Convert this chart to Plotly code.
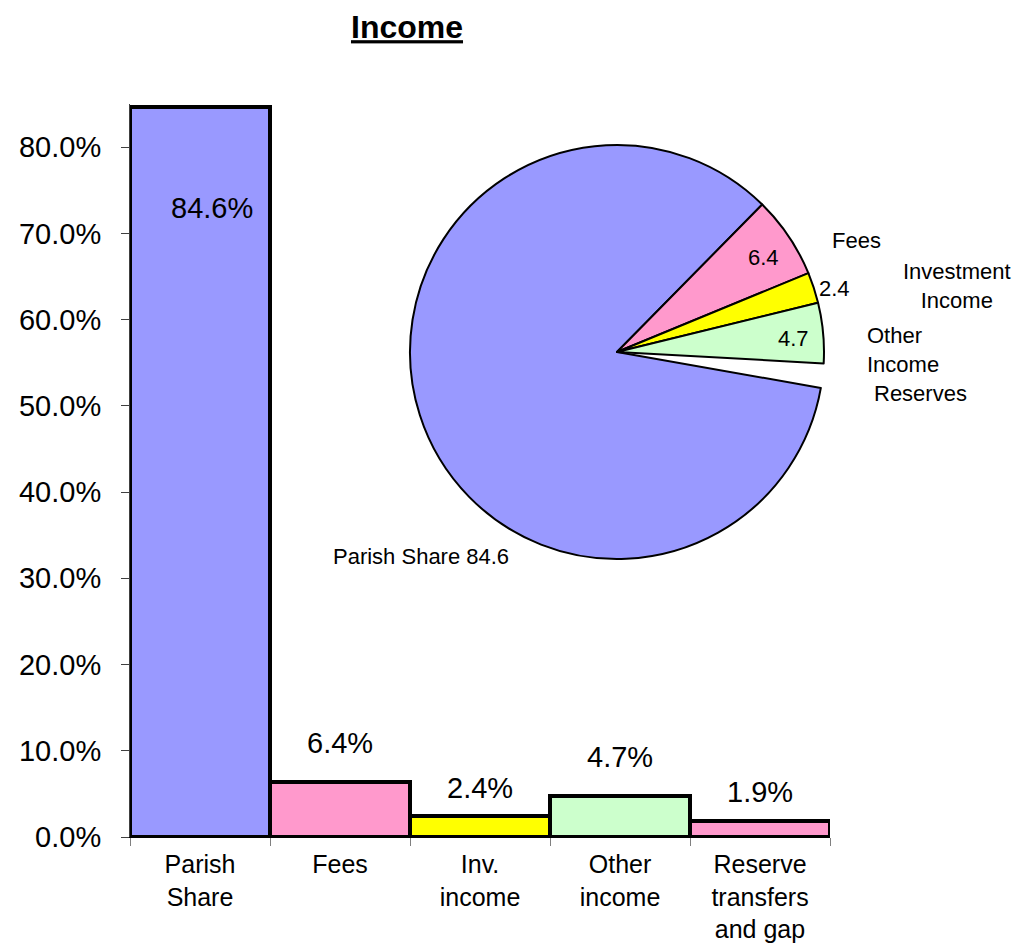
import plotly.graph_objects as go

# ---- data ----
categories = ["Parish<br>Share", "Fees", "Inv.<br>income", "Other<br>income", "Reserve<br>transfers<br>and gap"]
bar_values = [84.6, 6.4, 2.4, 4.7, 1.9]
bar_colors = ["#9999FF", "#FF99CC", "#FFFF00", "#CCFFCC", "#FF99CC"]

pie_labels = ["Parish Share", "Fees", "Investment<br>Income", "Other<br>Income", "Reserves"]
pie_values = [84.6, 6.4, 2.4, 4.7, 1.9]
pie_colors = ["#9999FF", "#FF99CC", "#FFFF00", "#CCFFCC", "rgba(0,0,0,0)"]

y_ticks = [0, 10, 20, 30, 40, 50, 60, 70, 80]
y_ticktext = [f"{v:.1f}%" for v in y_ticks]

W, H = 1016, 948
L, R, T, B = 130, 186, 104, 111
PW, PH = W - L - R, H - T - B


def px(x, y):
    return (x - L) / PW, (H - B - y) / PH


FONT = "Liberation Sans, Arial, sans-serif"

fig = go.Figure()
fig.add_trace(go.Bar(
    x=categories, y=bar_values,
    marker=dict(color=bar_colors, line=dict(color="black", width=4)),
    width=1, showlegend=False, hoverinfo="skip",
))

x0, y0 = px(410, 559)
x1, y1 = px(824, 145)
fig.add_trace(go.Pie(
    labels=pie_labels, values=pie_values, sort=False,
    direction="clockwise", rotation=100,
    marker=dict(colors=pie_colors,
                line=dict(color=["black"] * 4 + ["rgba(0,0,0,0)"], width=[2, 2, 2, 2, 0])),
    textinfo="none", showlegend=False, hoverinfo="skip",
    domain=dict(x=[x0, x1], y=[y0, y1]),
))

annotations = []
# bar value labels
bar_label_shift = [-101, 39, 28, 39, 29]
bar_label_xshift = [12, 0, 0, 0, 0]
for c, v, s, xs in zip(categories, bar_values, bar_label_shift, bar_label_xshift):
    annotations.append(dict(x=c, y=v, xref="x", yref="y", text=f"{v:.1f}%",
                            showarrow=False, yshift=s, xshift=xs, yanchor="middle",
                            font=dict(size=29, color="black", family=FONT)))

# pie labels
pie_font = dict(size=22, color="black", family=FONT)
pie_text_pos = [
    (f"{pie_labels[0]} {pie_values[0]}", 421, 556, "center", "center"),
    (f"{pie_values[1]}", 763, 257, "center", "center"),
    (f"{pie_values[2]}", 834, 288, "center", "center"),
    (f"{pie_values[3]}", 793, 338, "center", "center"),
    (pie_labels[1], 856, 240, "center", "center"),
    (pie_labels[2], 957, 286, "center", "center"),
    (pie_labels[3], 865, 350, "left", "left"),
    (pie_labels[4], 920, 393, "center", "center"),
]
for text, ax, ay, xa, al in pie_text_pos:
    xp, yp = px(ax, ay)
    annotations.append(dict(x=xp, y=yp, xref="paper", yref="paper", text=text,
                            showarrow=False, xanchor=xa, align=al, yanchor="middle",
                            font=pie_font))

fig.update_layout(
    width=W, height=H,
    margin=dict(l=L, r=R, t=T, b=B, autoexpand=False),
    paper_bgcolor="white", plot_bgcolor="white",
    font=dict(family=FONT, color="black"),
    title=dict(text="<u><b>Income</b></u>", x=(407 - L) / PW, xref="paper",
               y=1 - 27 / H, yref="container", xanchor="center", yanchor="middle",
               font=dict(size=32, family=FONT, color="black")),
    bargap=0,
    annotations=annotations,
    xaxis=dict(showline=True, linecolor="black", linewidth=1, automargin=False,
               ticks="outside", tickson="boundaries", ticklen=8, tickcolor="#808080",
               tickfont=dict(size=25, family=FONT, color="black"),
               ticklabelstandoff=5,
               showgrid=False, zeroline=False),
    yaxis=dict(range=[0, 85], showline=True, linecolor="#404040", linewidth=1,
               automargin=False,
               ticks="outside", ticklen=8, tickcolor="#404040",
               tickvals=y_ticks, ticktext=y_ticktext,
               tickfont=dict(size=29, family=FONT, color="black"),
               ticklabelstandoff=14,
               showgrid=False, zeroline=False),
)

fig.write_html("out.html", config={"displayModeBar": False},
               post_script="document.body.style.margin='0';document.body.style.overflow='hidden';")
